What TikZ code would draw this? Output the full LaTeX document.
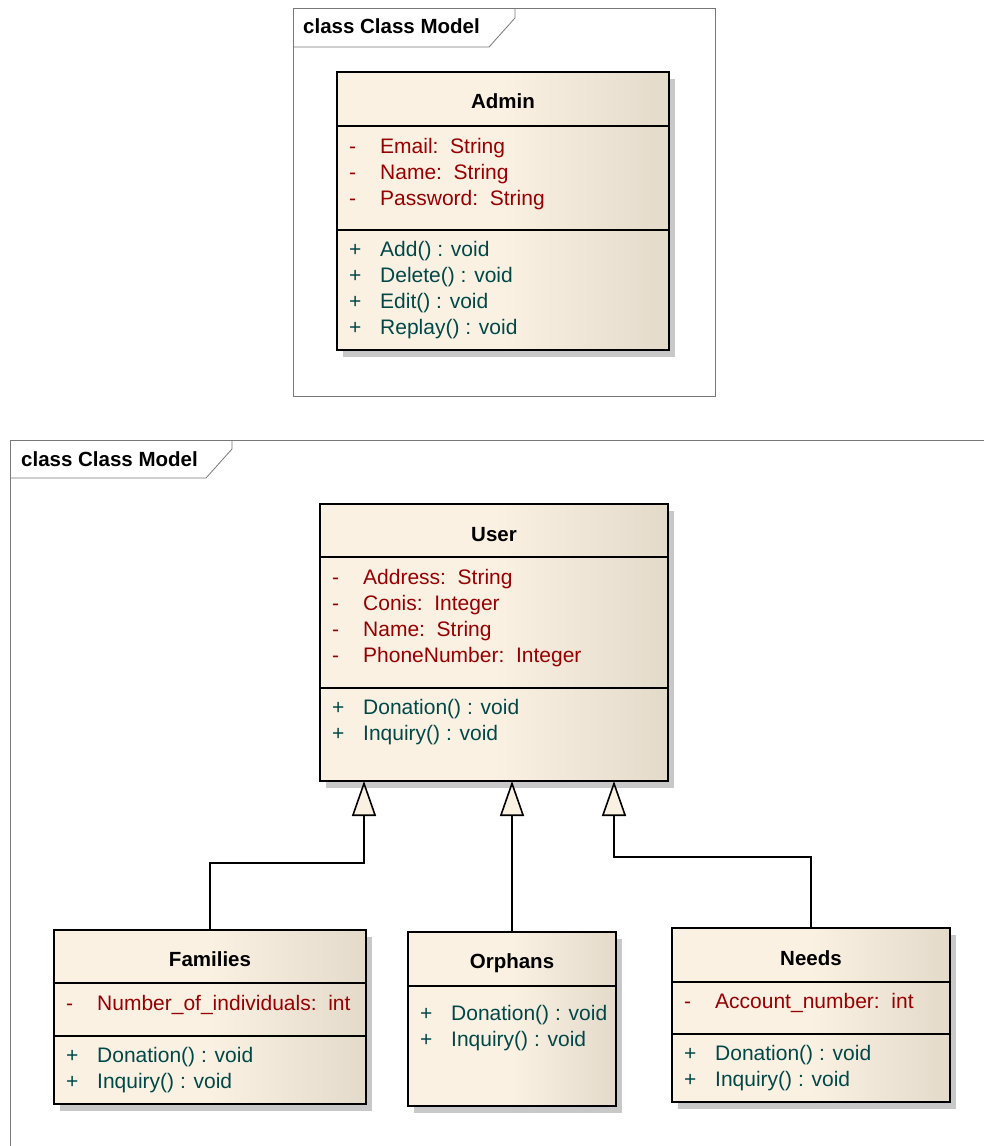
\documentclass[tikz,border=0pt]{standalone}
\usepackage{fontspec}
\setmainfont{Liberation Sans}
\usepackage{tikz}
\usetikzlibrary{arrows.meta,shadows}
\definecolor{umlCream}{RGB}{251,241,227}
\definecolor{umlSand}{RGB}{228,218,202}
\definecolor{umlRed}{RGB}{150,0,0}
\definecolor{umlTeal}{RGB}{0,72,72}
\definecolor{umlShadow}{RGB}{200,200,200}
\definecolor{umlFrame}{RGB}{120,120,120}

\tikzset{
  classbox/.style={draw=black, line width=1.6pt, outer sep=0pt, inner sep=0pt, anchor=north west,
    left color=umlCream, right color=umlSand, middle color=umlCream,
    drop shadow={shadow xshift=6pt, shadow yshift=-7pt, fill=umlShadow, opacity=1}},
  divline/.style={line width=1.6pt},
  frameline/.style={draw=umlFrame, line width=0.8pt},
  attr/.style={anchor=base west, inner sep=0pt, text=umlRed, font=\fontsize{21}{26}\selectfont},
  meth/.style={attr, text=umlTeal},
  cname/.style={anchor=base, inner sep=0pt, font=\fontsize{20.5}{26}\selectfont\bfseries},
  ftitle/.style={cname, anchor=base west},
  gen/.style={line width=1.6pt, -{Triangle[length=35pt, width=24pt, fill=umlCream]}}
}

\begin{document}
\begin{tikzpicture}[x=1pt, y=-1pt]
  \useasboundingbox (0,0) rectangle (984,1146);
  \clip (0,0) rectangle (984,1146);

  % frames
  \draw[frameline] (293,8) rectangle (715,396);
  \draw[frameline] (293,47) -- (489,47) -- (515,18) -- (515,8);
  \node[ftitle] (frameTop) at (303,33) {class Class Model};
  \draw[frameline] (1000,440) -- (10,440) -- (10,1160);
  \draw[frameline] (10,478) -- (206,478) -- (232,449) -- (232,440);
  \node[ftitle] (frameBottom) at (21,466) {class Class Model};

  % Admin
  \node[classbox, minimum width=332pt, minimum height=278pt] (admin) at (337,72) {};
  \draw[divline] (admin.west |- 0,126) -- (admin.east |- 0,126);
  \draw[divline] (admin.west |- 0,230) -- (admin.east |- 0,230);
  \node[cname] (adminName) at (503,108) {Admin};
  \foreach \txt [count=\i from 0] in {{Email:\ \ String},{Name:\ \ String},{Password:\ \ String}}
    \node[attr] (adminAttr\i) at (349,{153+26*\i}) {\makebox[31pt][l]{-}\txt};
  \foreach \txt [count=\i from 0] in {{Add() : void},{Delete() : void},{Edit() : void},{Replay() : void}}
    \node[meth] (adminOp\i) at (349,{256+26*\i}) {\makebox[31pt][l]{+}\txt};

  % User
  \node[classbox, minimum width=348pt, minimum height=277pt] (user) at (320,504) {};
  \draw[divline] (user.west |- 0,557) -- (user.east |- 0,557);
  \draw[divline] (user.west |- 0,688) -- (user.east |- 0,688);
  \node[cname] (userName) at (494,541) {User};
  \foreach \txt [count=\i from 0] in {{Address:\ \ String},{Conis:\ \ Integer},{Name:\ \ String},{PhoneNumber:\ \ Integer}}
    \node[attr] (userAttr\i) at (332,{584+26*\i}) {\makebox[31pt][l]{-}\txt};
  \foreach \txt [count=\i from 0] in {{Donation() : void},{Inquiry() : void}}
    \node[meth] (userOp\i) at (332,{714+26*\i}) {\makebox[31pt][l]{+}\txt};
  \coordinate (userF) at (364,781);
  \coordinate (userO) at (512,781);
  \coordinate (userN) at (614,781);

  % Families
  \node[classbox, minimum width=312pt, minimum height=174pt] (families) at (54,930) {};
  \draw[divline] (families.west |- 0,983) -- (families.east |- 0,983);
  \draw[divline] (families.west |- 0,1036) -- (families.east |- 0,1036);
  \node[cname] (familiesName) at (210,966) {Families};
  \node[attr] (familiesAttr0) at (66,1010) {\makebox[31pt][l]{-}Number\_of\_individuals:\ \ int};
  \foreach \txt [count=\i from 0] in {{Donation() : void},{Inquiry() : void}}
    \node[meth] (familiesOp\i) at (66,{1062+26*\i}) {\makebox[31pt][l]{+}\txt};

  % Orphans
  \node[classbox, minimum width=208pt, minimum height=174pt] (orphans) at (408,932) {};
  \draw[divline] (orphans.west |- 0,986) -- (orphans.east |- 0,986);
  \node[cname] (orphansName) at (512,968) {Orphans};
  \foreach \txt [count=\i from 0] in {{Donation() : void},{Inquiry() : void}}
    \node[meth] (orphansOp\i) at (420,{1020+26*\i}) {\makebox[31pt][l]{+}\txt};

  % Needs
  \node[classbox, minimum width=278pt, minimum height=174pt] (needs) at (672,928) {};
  \draw[divline] (needs.west |- 0,982) -- (needs.east |- 0,982);
  \draw[divline] (needs.west |- 0,1034) -- (needs.east |- 0,1034);
  \node[cname] (needsName) at (811,965) {Needs};
  \node[attr] (needsAttr0) at (684,1008) {\makebox[31pt][l]{-}Account\_number:\ \ int};
  \foreach \txt [count=\i from 0] in {{Donation() : void},{Inquiry() : void}}
    \node[meth] (needsOp\i) at (684,{1060+26*\i}) {\makebox[31pt][l]{+}\txt};

  % generalizations
  \draw[gen] (families.north) |- (364,863) -- (userF);
  \draw[gen] (orphans.north) -- (userO);
  \draw[gen] (needs.north) |- (614,857) -- (userN);
\end{tikzpicture}
\end{document}
